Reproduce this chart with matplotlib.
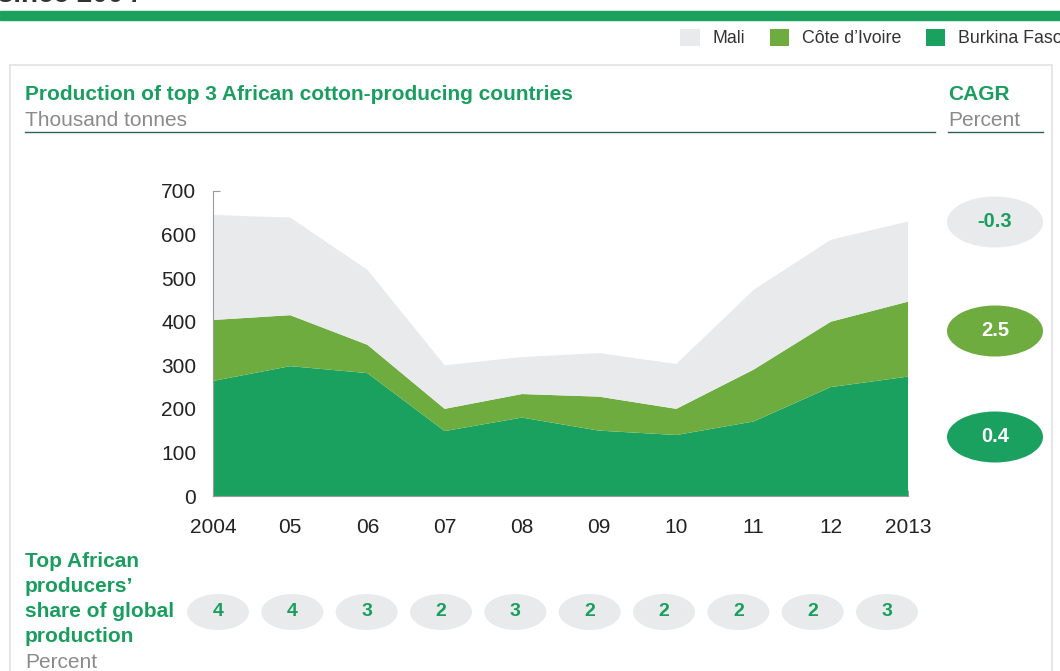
#cotton production of top 3 african producers, stacked area + cagr + share
import numpy as np
import matplotlib
matplotlib.use('Agg')
import matplotlib.pyplot as plt
from matplotlib.patches import Ellipse, Rectangle, Patch
from matplotlib.lines import Line2D

plt.rcParams['font.family'] = ['Liberation Sans', 'DejaVu Sans']

#data, thousand tonnes
years      = [2004, 2005, 2006, 2007, 2008, 2009, 2010, 2011, 2012, 2013]
year_lbls  = ['2004', '05', '06', '07', '08', '09', '10', '11', '12', '2013']
burkina    = [264, 298, 282, 149, 180, 150, 140, 171, 250, 274]
cote       = [140, 117, 65, 51, 54, 78, 60, 119, 150, 172]
mali       = [241, 224, 172, 100, 85, 100, 103, 183, 188, 184]
countries  = ['Mali', 'Côte d\u2019Ivoire', 'Burkina Faso']
cagr       = ['-0.3', '2.5', '0.4']
share      = [4, 4, 3, 2, 3, 2, 2, 2, 2, 3]

#colours
c_bf   = '#1aa15f'
c_ci   = '#6fac3f'
c_mali = '#e9eaeb'
c_txt  = '#1a9e5f'
c_gray = '#8a8a8a'

W, H = 1060, 671
fig = plt.figure(figsize=(W/100, H/100), dpi=100)

def fx(px):
    return px / W
def fy(py):
    return 1 - py / H

#cut off headline + green bar
fig.text(fx(-2), fy(1.5), 'since 2004', fontsize=20, fontweight='bold', color='#333333', va='baseline', ha='left')
fig.patches.append(Rectangle((0, fy(20)), 1, fy(11) - fy(20), transform=fig.transFigure, color=c_bf, zorder=1))

#panel frame
fig.patches.append(Rectangle((fx(10), fy(690)), fx(1052) - fx(10), fy(65) - fy(690), transform=fig.transFigure,
                             fill=False, edgecolor='#e2e2e2', lw=1.2, zorder=1))

#legend
handles = [Patch(facecolor=c, edgecolor='none') for c in [c_mali, c_ci, c_bf]]
fig.legend(handles, countries, loc='center left', bbox_to_anchor=(fx(664), fy(38)), ncol=3, frameon=False,
           fontsize=12.8, handlelength=1.1, handleheight=1.1, handletextpad=0.7, columnspacing=1.4,
           labelcolor='#333333')

#titles
fig.text(fx(25), fy(100), 'Production of top 3 African cotton-producing countries', fontsize=15, fontweight='bold',
         color=c_txt, va='baseline')
fig.text(fx(25), fy(126), 'Thousand tonnes', fontsize=15, color=c_gray, va='baseline')
fig.add_artist(Line2D([fx(25), fx(935)], [fy(132), fy(132)], color='#2f5f5f', lw=1))
fig.text(fx(948), fy(100), 'CAGR', fontsize=15, fontweight='bold', color=c_txt, va='baseline')
fig.text(fx(948), fy(126), 'Percent', fontsize=15, color=c_gray, va='baseline')
fig.add_artist(Line2D([fx(948), fx(1043)], [fy(132), fy(132)], color='#2f5f5f', lw=1))

#main stacked area
ax = fig.add_axes([fx(213), fy(496), fx(908) - fx(213), fy(191) - fy(496)])
ax.stackplot(years, burkina, cote, mali, colors=[c_bf, c_ci, c_mali], lw=0)
ax.set_xlim(2004, 2013)
ax.set_ylim(0, 700)
ax.set_yticks(range(0, 701, 100))
ax.set_xticks(years)
ax.set_xticklabels(year_lbls)
ax.set_axisbelow(True)
for s in ['top', 'right']:
    ax.spines[s].set_visible(False)
ax.spines['left'].set_color('#9a9a9a')
ax.spines['bottom'].set_color('#9a9a9a')
ax.tick_params(axis='y', direction='in', length=5, color='#9a9a9a', labelsize=15, labelcolor='#222222', pad=12)
ax.tick_params(axis='x', direction='in', length=4, color='#9a9a9a', labelsize=15, labelcolor='#222222', pad=16)

#cagr bubbles
axc = fig.add_axes([fx(947), fy(480), fx(1043) - fx(947), fy(180) - fy(480)])
axc.set_xlim(0, 1)
axc.set_ylim(0, 300)
axc.axis('off')
cagr_y  = [258, 149, 43]
cagr_fc = [c_mali, c_ci, c_bf]
cagr_tc = [c_txt, 'white', 'white']
for i in range(len(cagr)):
    axc.add_patch(Ellipse((0.5, cagr_y[i]), 1.0, 51, facecolor=cagr_fc[i], edgecolor='none', clip_on=False))
    axc.text(0.5, cagr_y[i], cagr[i], ha='center', va='center', fontsize=14.5, fontweight='bold', color=cagr_tc[i])

#share of global production row (slightly narrower spacing than the years above)
ax2 = fig.add_axes([fx(218), fy(642), fx(887) - fx(218), fy(582) - fy(642)])
ax2.set_xlim(2004, 2013)
ax2.set_ylim(0, 60)
ax2.axis('off')
for i, v in enumerate(share):
    ax2.add_patch(Ellipse((years[i], 30), 62 * 9 / (887 - 218), 36, facecolor=c_mali, edgecolor='none', clip_on=False))
    ax2.text(years[i], 30, str(v), ha='center', va='center', fontsize=14, fontweight='bold', color=c_txt)

fig.text(fx(25), fy(567), 'Top African', fontsize=15, fontweight='bold', color=c_txt, va='baseline')
fig.text(fx(25), fy(592), 'producers\u2019', fontsize=15, fontweight='bold', color=c_txt, va='baseline')
fig.text(fx(25), fy(617), 'share of global', fontsize=15, fontweight='bold', color=c_txt, va='baseline')
fig.text(fx(25), fy(642), 'production', fontsize=15, fontweight='bold', color=c_txt, va='baseline')
fig.text(fx(25), fy(668), 'Percent', fontsize=15, color=c_gray, va='baseline')

fig.savefig('out.png', dpi=100)
